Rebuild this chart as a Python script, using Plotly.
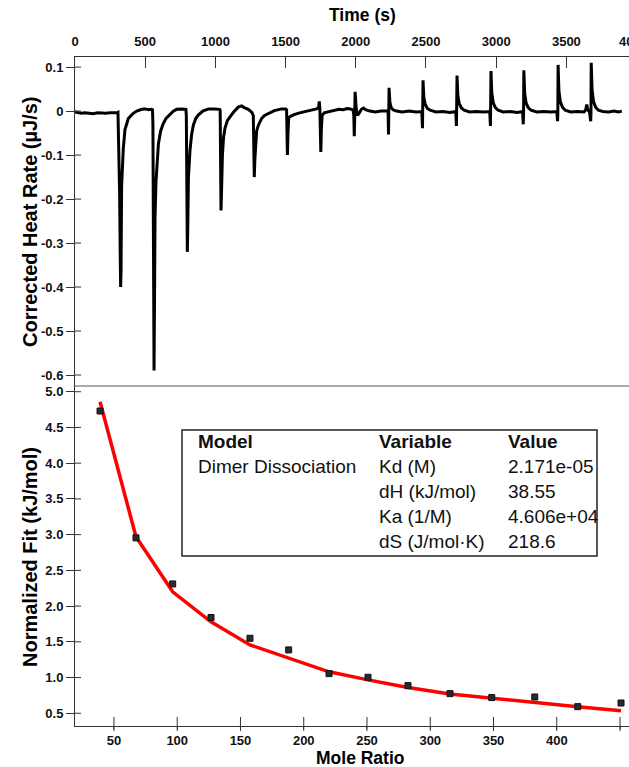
import plotly.graph_objects as go

# ---------------- data ----------------
# Thermogram: corrected heat rate (µJ/s) vs time (s), traced vertex by vertex
time_s = [
    0, 20, 45, 70, 100, 130, 160, 190, 220, 250, 280, 300, 306,
    310, 314, 318, 322, 325, 328, 332, 337, 344, 356, 368, 380, 400, 415, 440, 475, 500, 525, 545, 552,
    555, 558, 560, 563, 566, 570, 577, 586, 594, 610, 629, 650, 677, 700, 724, 760, 790,
    793, 796, 800, 803, 808, 814, 819, 830, 843, 860, 878, 910, 950, 990, 1030,
    1034, 1037, 1040, 1044, 1050, 1058, 1068, 1085, 1104, 1130, 1163, 1187, 1205, 1234, 1260,
    1270, 1273, 1277, 1281, 1287, 1294, 1306, 1329, 1350, 1377, 1420, 1472, 1500, 1507,
    1510, 1513, 1517, 1522, 1535, 1560, 1600, 1650, 1690, 1720, 1735, 1740, 1744,
    1748, 1751, 1755, 1760, 1775, 1800, 1840, 1880, 1910, 1940, 1960, 1980,
    1986, 1989, 1992, 1995, 1998, 2003, 2012, 2025, 2040, 2055, 2070, 2100, 2140, 2180, 2220, 2230,
    2233, 2235, 2237, 2239, 2243, 2252, 2265, 2290, 2330, 2380, 2430, 2470,
    2475, 2477, 2479, 2481, 2485, 2495, 2510, 2530, 2570, 2620, 2670, 2712,
    2717, 2719, 2721, 2723, 2727, 2737, 2752, 2772, 2810, 2860, 2910, 2954,
    2959, 2961, 2963, 2965, 2969, 2979, 2994, 3014, 3050, 3100, 3150, 3188,
    3193, 3195, 3197, 3199, 3203, 3213, 3228, 3248, 3290, 3340, 3390, 3432,
    3437, 3439, 3441, 3443, 3447, 3457, 3472, 3492, 3530, 3580, 3625, 3638, 3645, 3652, 3665,
    3673, 3675, 3677, 3679, 3683, 3693, 3708, 3728, 3760, 3800, 3840, 3870, 3895,
]
heat_rate = [
    -0.002, -0.004, -0.005, -0.004, -0.005, -0.006, -0.004, -0.005, -0.005, -0.004, -0.005, -0.004, -0.003,
    -0.06, -0.17, -0.19, -0.32, -0.40, -0.36, -0.17, -0.12, -0.085, -0.042, -0.027, -0.017, -0.010, -0.005, 0.000, 0.004, 0.005, 0.003, 0.004, 0.003,
    -0.03, -0.18, -0.36, -0.59, -0.45, -0.24, -0.16, -0.11, -0.075, -0.045, -0.028, -0.016, -0.006, 0.000, 0.004, 0.005, 0.004,
    -0.01, -0.14, -0.32, -0.27, -0.15, -0.11, -0.09, -0.055, -0.032, -0.017, -0.009, 0.000, 0.005, 0.005, 0.004,
    0.002, -0.10, -0.226, -0.18, -0.10, -0.06, -0.039, -0.022, -0.013, -0.002, 0.009, 0.012, 0.008, 0.004, -0.003,
    -0.01, -0.07, -0.15, -0.11, -0.06, -0.045, -0.032, -0.017, -0.010, -0.005, 0.001, 0.005, 0.005, 0.003,
    -0.03, -0.10, -0.05, -0.015, -0.012, -0.008, -0.004, 0.000, 0.003, 0.005, 0.008, 0.022, 0.006,
    -0.04, -0.093, -0.04, -0.010, -0.004, -0.002, 0.002, 0.004, 0.003, 0.006, 0.005, 0.003,
    -0.01, -0.057, -0.02, 0.044, 0.030, 0.005, -0.010, -0.004, 0.004, 0.007, 0.003, 0.000, -0.002, 0.000, -0.001, 0.000,
    -0.053, -0.010, 0.053, 0.040, 0.020, 0.008, 0.003, 0.000, -0.002, 0.000, -0.002, -0.001,
    -0.039, -0.005, 0.070, 0.055, 0.030, 0.015, 0.006, 0.002, -0.002, -0.001, -0.003, -0.001,
    -0.034, -0.005, 0.081, 0.065, 0.035, 0.017, 0.007, 0.002, -0.002, -0.001, -0.002, -0.001,
    -0.034, -0.005, 0.091, 0.072, 0.040, 0.019, 0.008, 0.002, -0.002, -0.001, -0.003, -0.001,
    -0.030, -0.005, 0.093, 0.074, 0.040, 0.019, 0.008, 0.002, -0.002, -0.001, -0.002, -0.001,
    -0.023, -0.005, 0.105, 0.084, 0.045, 0.021, 0.009, 0.002, -0.002, -0.001, -0.002, 0.003, 0.015, 0.003, -0.002,
    -0.023, -0.005, 0.110, 0.088, 0.048, 0.022, 0.009, 0.002, -0.001, -0.002, 0.000, -0.002, 0.000,
]

time_ticks = [0, 500, 1000, 1500, 2000, 2500, 3000, 3500]
rate_ticks = [0.1, 0.0, -0.1, -0.2, -0.3, -0.4, -0.5, -0.6]
rate_tick_text = ["0.1", "0", "-0.1", "-0.2", "-0.3", "-0.4", "-0.5", "-0.6"]

# Integrated, normalized heats and the dimer-dissociation fit
mole_ratio = [39.0, 67.4, 96.4, 126.7, 157.5, 188.1, 220.0, 250.8, 282.4, 315.6, 348.6, 382.6, 416.6, 450.8]
norm_fit_data = [4.73, 2.955, 2.31, 1.84, 1.55, 1.387, 1.055, 1.004, 0.887, 0.775, 0.72, 0.728, 0.593, 0.644]
norm_fit_model = [4.86, 2.97, 2.20, 1.78, 1.457, 1.27, 1.08, 0.967, 0.86, 0.77, 0.71, 0.645, 0.59, 0.536]

ratio_ticks = [50, 100, 150, 200, 250, 300, 350, 400, 450]
fit_ticks = [0.5, 1.0, 1.5, 2.0, 2.5, 3.0, 3.5, 4.0, 4.5, 5.0]
fit_tick_text = ["0.5", "1.0", "1.5", "2.0", "2.5", "3.0", "3.5", "4.0", "4.5", "5.0"]

table_header = ["Model", "Variable", "Value"]
table_model = "Dimer Dissociation"
table_variables = ["Kd (M)", "dH (kJ/mol)", "Ka (1/M)", "dS (J/mol·K)"]
table_values = ["2.171e-05", "38.55", "4.606e+04", "218.6"]

# ---------------- layout geometry (pixels) ----------------
W, H = 629, 767
ML, MR, MT, MB = 75, 0, 57, 41
SPLIT_PX = 386          # boundary between the two panels
PW, PH = W - ML - MR, H - MT - MB


def px_x(px):
    return (px - ML) / PW


def px_y(py):
    return (H - MB - py) / PH


split = px_y(SPLIT_PX)
FONT = "Liberation Sans, Arial, sans-serif"
tick_font = dict(family=FONT, size=13, color="#111", weight="bold")
AX_LINE = "#333"

fig = go.Figure()

fig.add_trace(go.Scatter(
    x=time_s, y=heat_rate, mode="lines",
    line=dict(color="black", width=3),
    xaxis="x", yaxis="y", showlegend=False, hoverinfo="skip",
))

fig.add_trace(go.Scatter(
    x=mole_ratio, y=norm_fit_model, mode="lines",
    line=dict(color="#ff0000", width=3.5),
    xaxis="x2", yaxis="y2", showlegend=False,
))
fig.add_trace(go.Scatter(
    x=mole_ratio, y=norm_fit_data, mode="markers",
    marker=dict(symbol="square", size=6, color="#2a2a2a", line=dict(color="#111", width=1)),
    xaxis="x2", yaxis="y2", showlegend=False,
))

fig.update_layout(
    width=W, height=H,
    margin=dict(l=ML, r=MR, t=MT, b=MB, pad=0),
    paper_bgcolor="white", plot_bgcolor="white",
    font=dict(family=FONT, color="black"),
    xaxis=dict(
        domain=[0, 1], anchor="y", side="top", range=[0, 3946],
        tickmode="array", tickvals=time_ticks, ticks="inside", ticklen=11,
        tickcolor=AX_LINE, tickwidth=1, tickfont=tick_font, ticklabelstandoff=5,
        showline=True, linecolor=AX_LINE, linewidth=1,
        showgrid=False, zeroline=False, fixedrange=True,
    ),
    yaxis=dict(
        domain=[split, 1], anchor="x", range=[-0.625, 0.123],
        tickmode="array", tickvals=rate_ticks, ticktext=rate_tick_text,
        ticks="outside", ticklen=8, tickcolor=AX_LINE, tickwidth=1, tickfont=tick_font,
        showline=True, linecolor=AX_LINE, linewidth=1,
        showgrid=False, zeroline=False, fixedrange=True,
    ),
    xaxis2=dict(
        domain=[0, 1], anchor="y2", side="bottom", range=[19.2, 457.1],
        tickmode="array", tickvals=ratio_ticks, ticks="outside", ticklen=2,
        tickcolor=AX_LINE, tickwidth=1, tickfont=tick_font,
        showline=True, linecolor=AX_LINE, linewidth=1,
        showgrid=False, zeroline=False, fixedrange=True,
    ),
    yaxis2=dict(
        domain=[0, split], anchor="x2", range=[0.322, 5.08],
        tickmode="array", tickvals=fit_ticks, ticktext=fit_tick_text,
        ticks="outside", ticklen=8, tickcolor=AX_LINE, tickwidth=1, tickfont=tick_font,
        showline=True, linecolor=AX_LINE, linewidth=1,
        showgrid=False, zeroline=False, fixedrange=True,
    ),
)

shapes = []
# inner halves of the crossing tick marks
for v in rate_ticks:
    shapes.append(dict(type="line", xref="paper", xsizemode="pixel", xanchor=0, x0=0, x1=6,
                       yref="y", y0=v, y1=v, line=dict(color=AX_LINE, width=1)))
for v in fit_ticks:
    shapes.append(dict(type="line", xref="paper", xsizemode="pixel", xanchor=0, x0=0, x1=6,
                       yref="y2", y0=v, y1=v, line=dict(color=AX_LINE, width=1)))
for v in ratio_ticks:
    shapes.append(dict(type="line", xref="x2", x0=v, x1=v, yref="paper", ysizemode="pixel",
                       yanchor=0, y0=-5, y1=9, line=dict(color=AX_LINE, width=1)))
# panel separator
shapes.append(dict(type="line", xref="paper", x0=0, x1=1, yref="paper", y0=split, y1=split,
                   line=dict(color="#555", width=1)))
# parameter table frame
shapes.append(dict(type="rect", xref="paper", yref="paper",
                   x0=px_x(182), x1=px_x(597), y0=px_y(556), y1=px_y(430),
                   line=dict(color="#222", width=1.5), fillcolor="rgba(0,0,0,0)"))
fig.update_layout(shapes=shapes)

ann = []
title_font = dict(family=FONT, size=17.5, color="black", weight="bold")
vtitle_font = dict(family=FONT, size=20, color="black", weight="bold")
ann.append(dict(text="Time (s)", xref="paper", yref="paper", x=px_x(362), y=px_y(15),
                xanchor="center", yanchor="middle", showarrow=False, font=title_font))
ann.append(dict(text="Mole Ratio", xref="paper", yref="paper", x=px_x(360), y=px_y(758),
                xanchor="center", yanchor="middle", showarrow=False, font=title_font))
ann.append(dict(text="Corrected Heat Rate (µJ/s)", xref="paper", yref="paper",
                x=px_x(30), y=px_y(222), textangle=-90, xanchor="center", yanchor="middle",
                showarrow=False, font=vtitle_font))
ann.append(dict(text="Normalized Fit (kJ/mol)", xref="paper", yref="paper",
                x=px_x(30), y=px_y(557), textangle=-90, xanchor="center", yanchor="middle",
                showarrow=False, font=vtitle_font))
# last top tick label, partly beyond the right edge
ann.append(dict(text="4000", xref="paper", yref="paper", x=px_x(633), y=px_y(42),
                xanchor="center", yanchor="middle", showarrow=False, font=tick_font))

# parameter table text
col_px = [196, 377, 506]
row_px = [441, 466.7, 491.7, 516.7, 541.7]
cell_font = dict(family=FONT, size=19, color="#111")
head_font = dict(family=FONT, size=19, color="#111", weight="bold")
for c, h in enumerate(table_header):
    ann.append(dict(text=h, xref="paper", yref="paper", x=px_x(col_px[c]), y=px_y(row_px[0]),
                    xanchor="left", yanchor="middle", showarrow=False, font=head_font))
ann.append(dict(text=table_model, xref="paper", yref="paper", x=px_x(col_px[0]), y=px_y(row_px[1]),
                xanchor="left", yanchor="middle", showarrow=False, font=cell_font))
for r, (var, val) in enumerate(zip(table_variables, table_values)):
    ann.append(dict(text=var, xref="paper", yref="paper", x=px_x(col_px[1]), y=px_y(row_px[r + 1]),
                    xanchor="left", yanchor="middle", showarrow=False, font=cell_font))
    ann.append(dict(text=val, xref="paper", yref="paper", x=px_x(col_px[2]), y=px_y(row_px[r + 1]),
                    xanchor="left", yanchor="middle", showarrow=False, font=cell_font))
fig.update_layout(annotations=ann)

fig.write_html("out.html", config={"displayModeBar": False})
